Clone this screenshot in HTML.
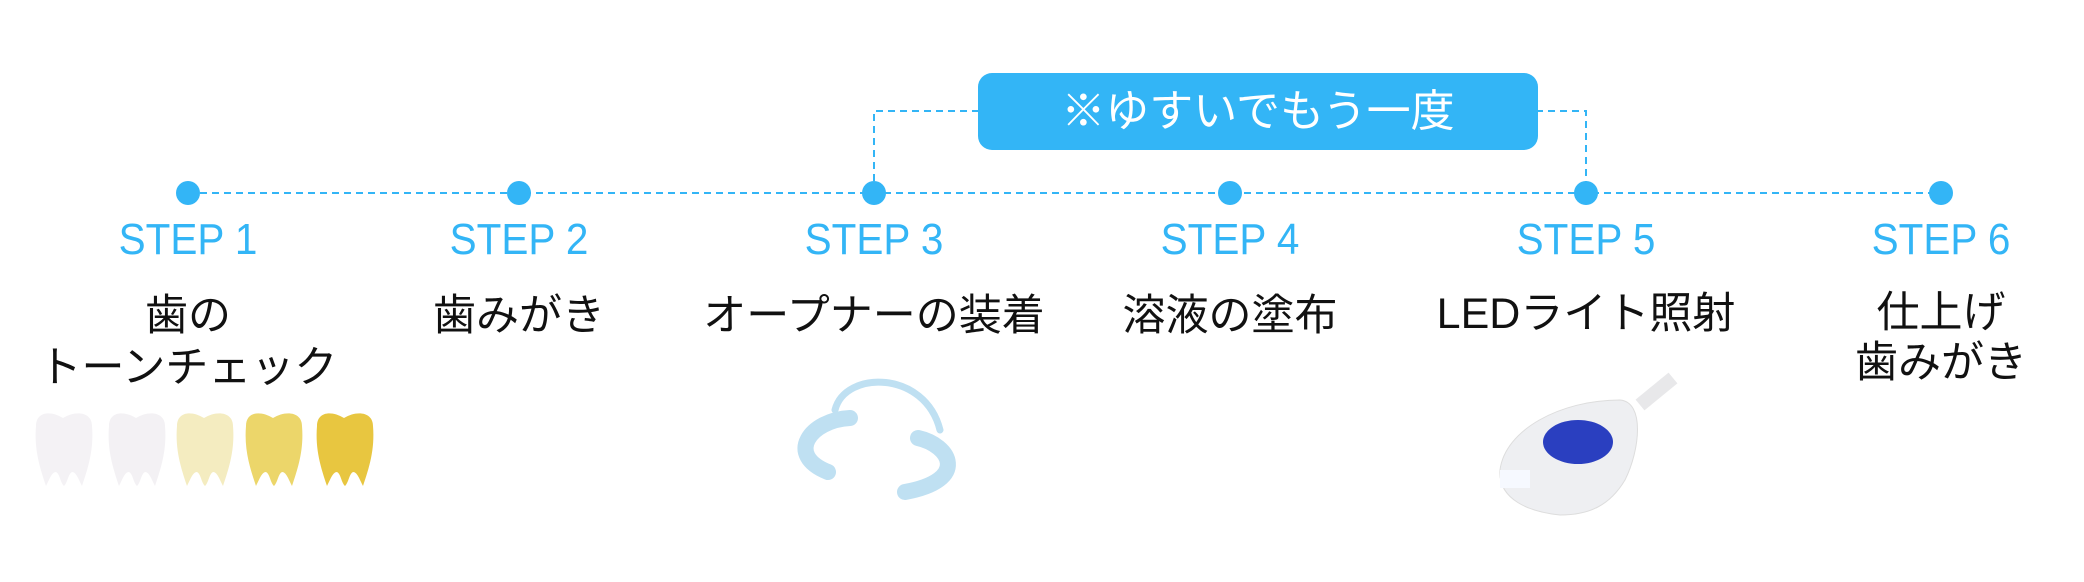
<!DOCTYPE html>
<html><head><meta charset="utf-8"><style>
html,body{margin:0;padding:0;background:#fff;width:2084px;height:582px;overflow:hidden;position:relative}
.s{position:absolute;top:216px;width:300px;margin-left:-150px;text-align:center;font:44px "Liberation Sans",sans-serif;color:#33b5f6;transform:scaleX(0.92);line-height:48px}
.j{position:absolute;width:500px;margin-left:-250px;text-align:center;font:43px "Liberation Sans","Noto Sans CJK JP",sans-serif;color:#111;line-height:52px}
</style></head><body>
<svg width="2084" height="582" style="position:absolute;left:0;top:0">
<g stroke="#33b5f6" stroke-width="2" stroke-dasharray="7,5" fill="none">
<line x1="188" y1="193" x2="1941" y2="193"/>
<polyline points="874,193 874,111 980,111"/>
<polyline points="1536,111 1586,111 1586,193"/>
</g>
<rect x="978" y="73" width="560" height="77" rx="14" fill="#33b5f6"/>
<g fill="#33b5f6">
<circle cx="188" cy="193" r="12"/><circle cx="519" cy="193" r="12"/><circle cx="874" cy="193" r="12"/>
<circle cx="1230" cy="193" r="12"/><circle cx="1586" cy="193" r="12"/><circle cx="1941" cy="193" r="12"/>
</g>
<text x="1258" y="126" text-anchor="middle" font-family="Liberation Sans, Noto Sans CJK JP, sans-serif" font-size="44" fill="#fff">※ゆすいでもう一度</text>
<defs>
<path id="t" d="M4,14 C4,0 18,-2 31,6 C44,-2 60,0 60,14 C62,38 56,56 50,74 C46,66 44,60 40,60 C36,62 36,70 32,74 C28,70 28,62 24,60 C20,60 18,66 14,74 C8,56 2,38 4,14Z"/>
</defs>
<use href="#t" x="32" y="412" fill="#f4f2f5"/>
<use href="#t" x="105" y="412" fill="#f3f1f4"/>
<use href="#t" x="173" y="412" fill="#f4ecc0"/>
<use href="#t" x="242" y="412" fill="#ecd66a"/>
<use href="#t" x="313" y="412" fill="#e8c640"/>
<g fill="none" stroke="#bfe0f2" stroke-linecap="round">
<path d="M835,410 C845,370 925,370 940,430" stroke-width="7"/>
<path d="M850,418 C810,420 785,455 828,472" stroke-width="16"/>
<path d="M918,438 C950,445 970,480 905,492" stroke-width="16"/>
</g>
<path d="M1640,405 L1673,378" stroke="#e8e8ea" stroke-width="14"/>
<path d="M1500,470 C1505,430 1560,400 1620,400 C1645,402 1640,450 1625,480 C1610,505 1590,515 1560,515 C1530,512 1498,500 1500,470Z" fill="#eeeff2" stroke="#ddd"/>
<ellipse cx="1578" cy="442" rx="35" ry="22" fill="#2a3fc0"/>
<rect x="1500" y="470" width="30" height="18" fill="#f6f9ff"/>
</svg>
<div class="s" style="left:188px">STEP 1</div>
<div class="s" style="left:519px">STEP 2</div>
<div class="s" style="left:874px">STEP 3</div>
<div class="s" style="left:1230px">STEP 4</div>
<div class="s" style="left:1586px">STEP 5</div>
<div class="s" style="left:1941px">STEP 6</div>
<div class="j" style="left:188px;top:290px">歯の<br>トーンチェック</div>
<div class="j" style="left:519px;top:290px">歯みがき</div>
<div class="j" style="left:874px;top:290px">オープナーの装着</div>
<div class="j" style="left:1230px;top:290px">溶液の塗布</div>
<div class="j" style="left:1586px;top:288px">LEDライト照射</div>
<div class="j" style="left:1941px;top:288px;line-height:50px">仕上げ<br>歯みがき</div>
</body></html>
